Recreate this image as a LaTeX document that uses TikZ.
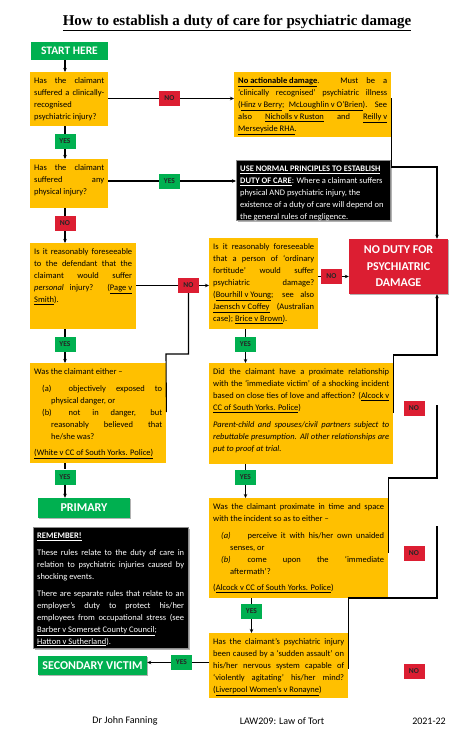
\documentclass[tikz,border=0pt]{standalone}
\usepackage{fontspec}
\setmainfont{Carlito}
\newfontfamily\titlefont{Liberation Serif}
\usepackage{xcolor}
\definecolor{qorange}{RGB}{255,192,0}
\definecolor{okgreen}{RGB}{0,176,80}
\definecolor{stopred}{RGB}{220,30,50}
\usetikzlibrary{arrows.meta, calc, shadows}

\newcommand{\boxfont}{\fontsize{8.5bp}{12bp}\selectfont}
\newcommand{\boxpar}[2]{\parbox[t]{#1}{\hyphenpenalty=10000\relax\strut #2}}
\newcommand{\pgap}{\par\vspace{4.5bp}}
\newcommand{\listline}[2]{\par\hangindent=17bp\hangafter=1\relax\hspace*{8bp}\makebox[26.5bp][l]{#1}#2}
\newcommand{\uln}[1]{\underline{#1}}

\tikzset{
  qbox/.style={fill=qorange, anchor=north west, inner sep=0pt},
  darkbox/.style={fill=black, draw=black!45, line width=0.8bp, anchor=north west, inner sep=0pt,
                  drop shadow={shadow xshift=1.2bp, shadow yshift=-1.2bp, fill=black!30, opacity=1}},
  qtext/.style={anchor=north west, inner sep=0pt, font=\boxfont},
  verdict/.style={fill=okgreen, text=white, inner sep=0pt, font=\fontsize{12bp}{14bp}\selectfont\bfseries,
                  drop shadow={shadow xshift=1.2bp, shadow yshift=-1.2bp, fill=black!30, opacity=1}},
  nodutybox/.style={fill=stopred, text=white, inner sep=0pt, align=center,
                  font=\fontsize{12bp}{16.5bp}\selectfont\bfseries,
                  drop shadow={shadow xshift=1.2bp, shadow yshift=-1.2bp, fill=black!30, opacity=1}},
  tag/.style={minimum width=21bp, minimum height=15bp, inner sep=0pt,
              font=\fontsize{7.5bp}{9bp}\selectfont\bfseries, text=black!85},
  yestag/.style={tag, fill=okgreen},
  notag/.style={tag, fill=stopred},
  link/.style={line width=1.1bp, draw=black},
  arr/.style={link, -{Stealth[length=4bp, width=3.5bp]}},
}

\begin{document}
\begin{tikzpicture}[x=1bp, y=-1bp]

\fill[white] (0,0) rectangle (474,744);
\useasboundingbox (0,0) rectangle (474,744);

\node (title) at (237,23) {\titlefont\fontsize{15bp}{18bp}\selectfont\bfseries\uln{How to establish a duty of care for psychiatric damage}};

% === Left column ===
\node[fill=okgreen, text=white, minimum width=77bp, minimum height=18bp, inner sep=0pt,
      font=\fontsize{11.5bp}{13bp}\selectfont\bfseries] (start) at (69.5,51) {START HERE};

\node[qbox, minimum width=78bp, minimum height=54bp] (q1) at (30,72) {};
\node[qtext] (q1txt) at ($(q1.north west)+(4,3)$) {\boxpar{70bp}{Has the claimant\linebreak suffered a clinically-\linebreak recognised\linebreak psychiatric injury?}};

\node[qbox, minimum width=78bp, minimum height=49bp] (q2) at (30,159) {};
\node[qtext] (q2txt) at ($(q2.north west)+(4,3)$) {\boxpar{70bp}{Has the claimant\linebreak suffered any\linebreak physical injury?}};

\node[qbox, minimum width=106bp, minimum height=86bp] (q3) at (30,243) {};
\node[qtext] (q3txt) at ($(q3.north west)+(4,3)$) {\boxpar{98bp}{Is it reasonably foreseeable\linebreak to the defendant that the\linebreak claimant would suffer\linebreak \textit{personal} injury? (\uln{Page v}\linebreak \uln{Smith}).}};

\node[qbox, minimum width=136bp, minimum height=100bp] (q4) at (30,363) {};
\node[qtext] (q4txt) at ($(q4.north west)+(4,3)$) {\boxpar{128bp}{Was the claimant either –\pgap
  \listline{(a)}{objectively exposed to\linebreak physical danger, or}
  \listline{(b)}{not in danger, but\linebreak reasonably believed that\linebreak he/she was?}\pgap
  \uln{(White v CC of South Yorks. Police)}}};

\node[verdict, minimum width=92bp, minimum height=20bp] (primary) at (84,508) {PRIMARY};

\node[darkbox, minimum width=155bp, minimum height=121bp] (remember) at (33,527) {};
\node[qtext, text=white] (remtxt) at ($(remember.north west)+(4,3)$) {\boxpar{147bp}{\textbf{\uln{REMEMBER!}}\par\vspace{4.7bp}
  These rules relate to the duty of care in\linebreak relation to psychiatric injuries caused by\linebreak shocking events.\par\vspace{4.7bp}
  There are separate rules that relate to an\linebreak employer’s duty to protect his/her\linebreak employees from occupational stress (see\linebreak \uln{Barber v Somerset County Council};\linebreak \uln{Hatton v Sutherland}).}};

\node[verdict, minimum width=109bp, minimum height=19bp] (secondary) at (92.5,665.5) {SECONDARY VICTIM};

% === Right column ===
\node[qbox, minimum width=157bp, minimum height=65bp] (nad) at (234,72) {};
\node[qtext] (nadtxt) at ($(nad.north west)+(4,3)$) {\boxpar{149bp}{\textbf{\uln{No actionable damage}}. Must be a\linebreak ‘clinically recognised’ psychiatric illness\linebreak (\uln{Hinz v Berry}; \uln{McLoughlin v O’Brien}). See\linebreak also \uln{Nicholls v Ruston} and \uln{Reilly v}\linebreak \uln{Merseyside RHA}.}};

\node[darkbox, minimum width=154bp, minimum height=60bp] (normal) at (236,160) {};
\node[qtext, text=white] (normtxt) at ($(normal.north west)+(4,3)$) {\boxpar{146bp}{\raggedright\textbf{\uln{USE NORMAL PRINCIPLES TO ESTABLISH}}\\ \textbf{\uln{DUTY OF CARE}}: Where a claimant suffers\\ physical AND psychiatric injury, the\\ existence of a duty of care will depend on\\ the general rules of negligence.}};

\node[qbox, minimum width=109bp, minimum height=91bp] (fort) at (209,238) {};
\node[qtext] (forttxt) at ($(fort.north west)+(4,3)$) {\boxpar{101bp}{Is it reasonably foreseeable\linebreak that a person of ‘ordinary\linebreak fortitude’ would suffer\linebreak psychiatric damage?\linebreak (\uln{Bourhill v Young}; see also\linebreak \uln{Jaensch v Coffey} (Australian\linebreak case); \uln{Brice v Brown}).}};

\node[nodutybox, minimum width=99bp, minimum height=55bp] (nodut) at (398.5,266.5) {NO DUTY FOR\\PSYCHIATRIC\\DAMAGE};

\node[qbox, minimum width=184bp, minimum height=101bp] (rel) at (209,363) {};
\node[qtext] (reltxt) at ($(rel.north west)+(4,3)$) {\boxpar{176bp}{Did the claimant have a proximate relationship\linebreak with the ‘immediate victim’ of a shocking incident\linebreak based on close ties of love and affection? (\uln{Alcock v}\linebreak \uln{CC of South Yorks. Police})\pgap
  \textit{Parent-child and spouses/civil partners subject to\linebreak rebuttable presumption. All other relationships are\linebreak put to proof at trial.}}};

\node[qbox, minimum width=179bp, minimum height=100bp] (prox) at (209,498) {};
\node[qtext] (proxtxt) at ($(prox.north west)+(4,3)$) {\boxpar{171bp}{Was the claimant proximate in time and space\linebreak with the incident so as to either –\pgap
  \listline{\textit{(a)}}{perceive it with his/her own unaided\linebreak senses, or}
  \listline{\textit{(b)}}{come upon the ‘immediate\linebreak aftermath’?}\pgap
  (\uln{Alcock v CC of South Yorks. Police})}};

\node[qbox, minimum width=139bp, minimum height=65bp] (ron) at (209,633) {};
\node[qtext] (rontxt) at ($(ron.north west)+(4,3)$) {\boxpar{131bp}{Has the claimant’s psychiatric injury\linebreak been caused by a ‘sudden assault’ on\linebreak his/her nervous system capable of\linebreak ‘violently agitating’ his/her mind?\linebreak (\uln{Liverpool Women’s v Ronayne})}};

% === YES / NO tags ===
\node[yestag] (yes1) at (65,141.5) {YES};
\node[notag]  (no1)  at (169.5,98.5) {NO};
\node[yestag] (yes2) at (169.5,181) {YES};
\node[notag]  (no2)  at (65,223.5) {NO};
\node[notag]  (no3)  at (188.5,285.5) {NO};
\node[yestag] (yes3) at (65,344.5) {YES};
\node[notag]  (no4)  at (331.5,276.5) {NO};
\node[yestag] (yes5) at (245.5,344.5) {YES};
\node[yestag] (yes4) at (65,477) {YES};
\node[yestag] (yes6) at (245.5,477.5) {YES};
\node[yestag] (yes7) at (251.5,611.5) {YES};
\node[yestag] (yes8) at (181.5,662.5) {YES};
\node[notag]  (norel)  at (414,408.5) {NO};
\node[notag]  (noprox) at (414,553.5) {NO};
\node[notag]  (noron)  at (414,671.5) {NO};

% === Connectors ===
\draw[arr] (start.south -| yes1) -- (q1.north -| yes1);
\draw[link] (q1.south -| yes1) -- (yes1.north);
\draw[arr] (yes1.south) -- (q2.north -| yes1);
\draw[link] (q1.east |- no1) -- (no1.west);
\draw[arr] (no1.east) -- (nad.west |- no1);
\draw[link] (q2.east |- yes2) -- (yes2.west);
\draw[arr] (yes2.east) -- (normal.west |- yes2);
\draw[link] (q2.south -| no2) -- (no2.north);
\draw[arr] (no2.south) -- (q3.north -| no2);
\draw[link] (q3.east |- no3) -- (no3.west);
\draw[arr] (no3.east) -- (fort.west |- no3);
\draw[link] (q3.south -| yes3) -- (yes3.north);
\draw[arr] (yes3.south) -- (q4.north -| yes3);
\draw[link] (q4.south -| yes4) -- (yes4.north);
\draw[arr] (yes4.south) -- (primary.north -| yes4);
\draw[link] (fort.east |- no4) -- (no4.west);
\draw[arr] (no4.east) -- (nodut.west |- no4);
\draw[link] (fort.south -| yes5) -- (yes5.north);
\draw[arr] (yes5.south) -- (rel.north -| yes5);
\draw[link] (rel.south -| yes6) -- (yes6.north);
\draw[arr] (yes6.south) -- (prox.north -| yes6);
\draw[link] (prox.south -| yes7) -- (yes7.north);
\draw[arr] (yes7.south) -- (ron.north -| yes7);
\draw[link] (ron.west |- yes8) -- (yes8.east);
\draw[arr] (yes8.west) -- (secondary.east |- yes8);

% lines into the right-hand column
\coordinate (bendA) at (437,167);
\coordinate (bendB) at (437,355);
\coordinate (bendC) at (437,478);
\coordinate (bendD) at (437,598);
\coordinate (bendE) at (166,354);
\draw[arr] ($(nad.north east)+(0,26)$) |- (bendA) -- (bendA |- nodut.north);
\draw[arr] ($(rel.north east)+(0,50)$) |- (bendB) -- (bendB |- nodut.south);
\draw[link] ($(prox.north east)+(0,55)$) |- (bendC) -- ++(0,-73);
\draw[link] ($(ron.north east)+(0,36)$) |- (bendD) -- ++(0,-72);
\draw[link] (no3.south) |- (bendE) -- ($(q4.north east)+(0,49)$);

% === Footer ===
\node[font=\fontsize{10bp}{12bp}\selectfont] (author) at (125,721) {Dr John Fanning};
\node[font=\fontsize{10bp}{12bp}\selectfont] (module) at (282,721) {LAW209: Law of Tort};
\node[font=\fontsize{10bp}{12bp}\selectfont] (year) at (429,721) {2021-22};

\end{tikzpicture}
\end{document}
